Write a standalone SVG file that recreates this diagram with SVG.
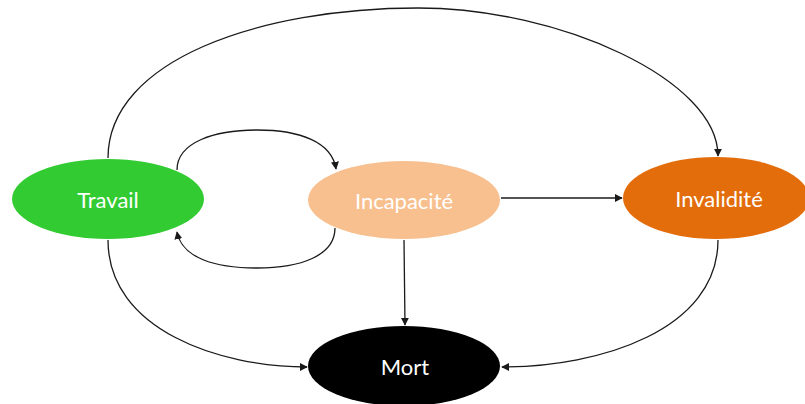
<svg xmlns="http://www.w3.org/2000/svg" width="805" height="404" viewBox="0 0 805 404">
  <style>
    .node-label { font-family: Lato, "Open Sans", "Liberation Sans", sans-serif; font-size: 22px; fill: #ffffff; text-anchor: middle; dominant-baseline: central; }
    .edge { fill: none; stroke: #1a1a1a; stroke-width: 1.3; marker-end: url(#arrow); }
  </style>
  <defs>
    <marker id="arrow" viewBox="0 0 10 10" refX="9" refY="5" markerWidth="8" markerHeight="8" markerUnits="userSpaceOnUse" orient="auto">
      <path d="M0,0 L10,5 L0,10 z" fill="#1a1a1a"/>
    </marker>
  </defs>
  <rect width="805" height="404" fill="#ffffff"/>

  <g id="connectors">
    <!-- Travail -> Invalidité (large arc over the top) -->
    <path class="edge" d="M108,158 C108,60 260,8 418,8 C560,8 718,80 718,156"/>
    <!-- Travail -> Incapacité -->
    <path class="edge" d="M177,170 C177,142 215,130 257,130 C300,130 332,142 336,169"/>
    <!-- Incapacité -> Travail -->
    <path class="edge" d="M335,228 C335,256 300,268 257,268 C215,268 182,258 177,232"/>
    <!-- Incapacité -> Invalidité -->
    <path class="edge" d="M501,198 L622,198"/>
    <!-- Incapacité -> Mort -->
    <path class="edge" d="M404,240 L405,325"/>
    <!-- Travail -> Mort -->
    <path class="edge" d="M108,240 C108,330 220,367 307,367"/>
    <!-- Invalidité -> Mort -->
    <path class="edge" d="M718,240 C718,330 600,367 502,367"/>
  </g>

  <g id="travail">
    <ellipse cx="108" cy="199" rx="96" ry="40" fill="#32CB32"/>
    <text class="node-label" x="108" y="199">Travail</text>
  </g>
  <g id="incapacite">
    <ellipse cx="404" cy="200" rx="96" ry="39" fill="#F8BF8F"/>
    <text class="node-label" x="404" y="200">Incapacité</text>
  </g>
  <g id="invalidite">
    <ellipse cx="716" cy="198" rx="93" ry="41" fill="#E36C0B"/>
    <text class="node-label" x="719" y="198">Invalidité</text>
  </g>
  <g id="mort">
    <ellipse cx="404" cy="366" rx="96" ry="40" fill="#000000"/>
    <text class="node-label" x="405" y="366">Mort</text>
  </g>
</svg>
